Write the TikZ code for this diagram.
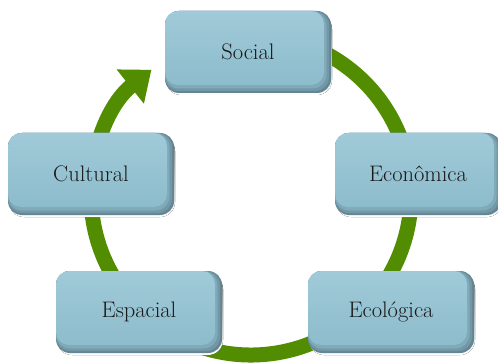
\documentclass[tikz,border=0pt]{standalone}
\usepackage{fontspec}
\usetikzlibrary{arrows.meta,calc}
\definecolor{ring}{RGB}{82,140,0}
\definecolor{bevA}{RGB}{100,134,148}
\definecolor{bevB}{RGB}{114,152,166}
\definecolor{bevC}{RGB}{128,170,185}
\definecolor{faceT}{RGB}{160,202,216}
\definecolor{faceB}{RGB}{141,188,204}
\definecolor{shade}{RGB}{222,228,231}
\tikzset{
  boxtext/.style={inner sep=0pt, text=black!90, font=\fontsize{22.5}{26}\selectfont},
  ringline/.style={draw=ring, line width=15pt, -{Triangle[width=42pt,length=27pt]}},
}
\newcommand\smbox[4]{%
  \fill[shade, rounded corners=15pt] (#2-82,#3-43) rectangle (#2+84,#3+38);
  \fill[bevA, rounded corners=14pt] (#2-83,#3-41) rectangle (#2+83,#3+41);
  \fill[bevB, rounded corners=14pt] (#2-83,#3-39) rectangle (#2+81,#3+41);
  \fill[bevC, rounded corners=14pt] (#2-83,#3-36.5) rectangle (#2+78.5,#3+41);
  \shade[top color=faceT, bottom color=faceB, rounded corners=13pt] (#2-83,#3-33) rectangle (#2+76,#3+41);
  \node[boxtext] (#1) at (#2,#3) {#4};
}
\begin{document}
\begin{tikzpicture}[x=1pt,y=1pt]
\useasboundingbox (0,0) rectangle (498,362);
\fill[white] (0,0) rectangle (498,362);
\coordinate (ctr) at (251,167);
\draw[ringline] ($(ctr)+(100:160)$) arc[start angle=100, end angle=-231.5, radius=160];
\smbox{social}{248}{310}{Social}
\smbox{economica}{418}{188}{Econômica}
\smbox{ecologica}{391}{50}{Ecológica}
\smbox{espacial}{139}{50}{Espacial}
\smbox{cultural}{91}{188}{Cultural}
\end{tikzpicture}
\end{document}
